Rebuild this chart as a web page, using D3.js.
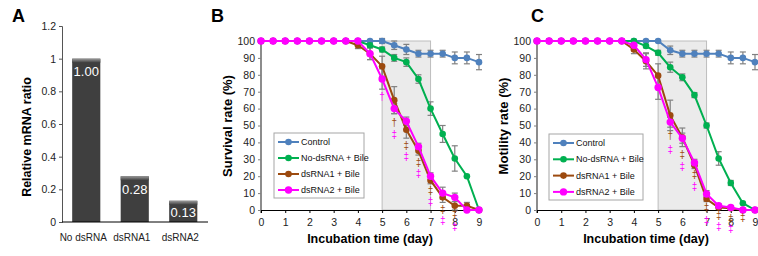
<!DOCTYPE html>
<html>
<head>
<meta charset="utf-8">
<script src="https://cdn.jsdelivr.net/npm/d3@7"></script>
<style>
  body { margin: 0; background: #fff; }
  svg { font-family: "Liberation Sans", Arial, sans-serif; }
</style>
</head>
<body>
<svg id="fig" width="758" height="256"></svg>
<script>
// ---- Panel A data
let mrnaCats = ["No dsRNA", "dsRNA1", "dsRNA2"];
let mrnaVals = [1.0, 0.28, 0.13];
let mrnaTicks = [0, 0.2, 0.4, 0.6, 0.8, 1, 1.2];

// ---- Panels B & C data (days 0..9, step 0.5)
let days = [0, 0.5, 1, 1.5, 2, 2.5, 3, 3.5, 4, 4.5, 5, 5.5, 6, 6.5, 7, 7.5, 8, 8.5, 9];
let dayTicks = [0, 1, 2, 3, 4, 5, 6, 7, 8, 9];
let rateTicks = [0, 10, 20, 30, 40, 50, 60, 70, 80, 90, 100];
let seriesNames = ["Control", "No-dsRNA + Bile", "dsRNA1 + Bile", "dsRNA2 + Bile"];

let survControl = [100, 100, 100, 100, 100, 100, 100, 100, 100, 100, 100, 97.5, 95, 92.5, 92.5, 92.5, 90, 90, 87.5];
let survControlErr = [0, 0, 0, 0, 0, 0, 0, 0, 0, 0, 1.5, 2.5, 3, 2, 2, 2, 3.5, 3.5, 4.5];
let survNo = [100, 100, 100, 100, 100, 100, 100, 100, 100, 97.5, 95, 90, 87.5, 77.5, 60, 45, 30.5, 20, 0];
let survNoErr = [0, 0, 0, 0, 0, 0, 0, 0, 0, 1.5, 1.5, 2, 2.5, 2.5, 4, 5, 7.5, 0, 0];
let survDs1 = [100, 100, 100, 100, 100, 100, 100, 100, 97.5, 92.5, 85, 65, 47.5, 35, 17.5, 7.5, 2.5, 2.5, 0];
let survDs1Err = [0, 0, 0, 0, 0, 0, 0, 0, 2, 3.5, 6, 8, 5, 2.5, 2, 3, 2.5, 2, 0];
let survDs2 = [100, 100, 100, 100, 100, 100, 100, 100, 100, 92.5, 77.5, 60, 52.5, 37.5, 20, 10, 7.5, 0, 0];
let survDs2Err = [0, 0, 0, 0, 0, 0, 0, 0, 0, 3.5, 6, 3, 2.5, 2, 2, 3.5, 2.5, 0, 0];

let motControl = [100, 100, 100, 100, 100, 100, 100, 100, 100, 100, 100, 94.5, 92.5, 92.5, 92.5, 92.5, 90, 90, 87.5];
let motControlErr = [0, 0, 0, 0, 0, 0, 0, 0, 0, 0, 0, 2.5, 2, 2, 2, 2, 3.5, 3.5, 4.5];
let motNo = [100, 100, 100, 100, 100, 100, 100, 100, 100, 97, 93, 84.5, 78.5, 68, 50, 30.5, 16, 4, 0];
let motNoErr = [0, 0, 0, 0, 0, 0, 0, 0, 0, 1, 1.5, 3, 2, 1.5, 1.5, 4, 1.5, 0, 0];
let motDs1 = [100, 100, 100, 100, 100, 100, 100, 100, 95, 88, 79.5, 56, 43, 26.5, 6.5, 1.5, 1, 0, 0];
let motDs1Err = [0, 0, 0, 0, 0, 0, 0, 0, 2.5, 4.5, 7, 9, 5.5, 2, 1.5, 1, 1, 0, 0];
let motDs2 = [100, 100, 100, 100, 100, 100, 100, 100, 97.5, 89, 72.5, 52, 42.5, 28, 9.5, 2.5, 1.5, 0, 0];
let motDs2Err = [0, 0, 0, 0, 0, 0, 0, 0, 2, 4, 7, 3, 3, 2, 2, 1, 1, 0, 0];

// significance marks: [day, symbol, series index, value position]
let survSig = [
  [5, "†", 3, 67], [5.5, "†", 2, 51.5], [5.5, "‡", 3, 44.5],
  [6, "‡", 2, 38], [6, "‡", 3, 31.5], [6.5, "‡", 2, 28], [6.5, "‡", 3, 21.5],
  [7, "‡", 2, 11.5], [7, "‡", 3, 5], [7.5, "‡", 2, 0.5], [7.5, "‡", 3, -6],
  [8, "‡", 2, -2], [8, "‡", 3, -10],
];
let motSig = [
  [5.5, "†", 2, 44], [5.5, "‡", 3, 36],
  [6, "‡", 2, 33], [6, "‡", 3, 26], [6.5, "‡", 2, 21], [6.5, "‡", 3, 14],
  [7, "‡", 2, 1.5], [7, "‡", 3, -6], [7.5, "‡", 2, -3.5], [7.5, "‡", 3, -9.5],
  [8, "‡", 2, -5], [8, "‡", 3, -11], [8.5, "‡", 2, -4.5],
];

let colors = ["#4f81bd", "#00b050", "#9c4a0f", "#ff00ff"];
let axisGrey = "#808080";

let svg = d3.select("#fig");

// ================= Panel A =================
let ya = d3.scaleLinear().domain([0, 1.2]).range([222, 26]);
let xa = d3.scaleBand().domain(mrnaCats).range([62, 207.5])
  .paddingInner(0.42).paddingOuter(0.21);

let defs = svg.append("defs");
let grad = defs.append("linearGradient").attr("id", "barTop")
  .attr("x1", 0).attr("y1", 0).attr("x2", 0).attr("y2", 1);
grad.append("stop").attr("offset", "0%").attr("stop-color", "#9a9a9a");
grad.append("stop").attr("offset", "100%").attr("stop-color", "#404040");

let gA = svg.append("g");
gA.selectAll("rect.bar").data(mrnaVals).enter().append("rect")
  .attr("class", "bar")
  .attr("x", (d, i) => xa(mrnaCats[i]))
  .attr("y", d => ya(d))
  .attr("width", xa.bandwidth())
  .attr("height", d => ya(0) - ya(d))
  .attr("fill", "#3f3f3f");
gA.selectAll("rect.top").data(mrnaVals).enter().append("rect")
  .attr("class", "top")
  .attr("x", (d, i) => xa(mrnaCats[i]))
  .attr("y", d => ya(d))
  .attr("width", xa.bandwidth())
  .attr("height", 4)
  .attr("fill", "url(#barTop)");
gA.selectAll("text.val").data(mrnaVals).enter().append("text")
  .attr("class", "val")
  .attr("x", (d, i) => xa(mrnaCats[i]) + xa.bandwidth() / 2)
  .attr("y", d => Math.min(ya(d) + 13, (ya(d) + ya(0)) / 2 + 1))
  .attr("dy", "0.35em")
  .attr("text-anchor", "middle")
  .attr("fill", "#fff")
  .style("font-size", "13px")
  .text(d => d.toFixed(2));

let yAxisA = gA.append("g").attr("transform", "translate(62,0)")
  .call(d3.axisLeft(ya).tickValues(mrnaTicks).tickSize(3).tickFormat(d => d));
yAxisA.select(".domain").attr("stroke", "#555");
yAxisA.selectAll(".tick line").attr("stroke", "#555");
yAxisA.selectAll("text").style("font-size", "10.5px").attr("fill", "#222").attr("font-family", null);

gA.append("line").attr("x1", 62).attr("x2", 208).attr("y1", ya(0)).attr("y2", ya(0))
  .attr("stroke", "#000");
gA.selectAll("text.cat").data(mrnaCats).enter().append("text")
  .attr("class", "cat")
  .attr("x", d => xa(d) + xa.bandwidth() / 2 - 3)
  .attr("y", 237).attr("dy", "0.35em")
  .attr("text-anchor", "middle")
  .style("font-size", "10px")
  .attr("fill", "#222")
  .text(d => d);

gA.append("text").attr("transform", "translate(27,137) rotate(-90)")
  .attr("text-anchor", "middle").attr("dy", "0.35em")
  .style("font-size", "12.5px").style("font-weight", "bold")
  .text("Relative mRNA ratio");
gA.append("text").attr("x", 12).attr("y", 22)
  .style("font-size", "18px").style("font-weight", "bold").text("A");

// ================= Panels B & C =================
function linePanel(cfg) {
  let g = svg.append("g");
  let x = d3.scaleLinear().domain([0, 9]).range(cfg.xRange);
  let y = d3.scaleLinear().domain([0, 100]).range([210, 41]);

  // shaded window day 5..7
  g.append("rect")
    .attr("x", x(5)).attr("y", y(100))
    .attr("width", x(7) - x(5)).attr("height", y(0) - y(100))
    .attr("fill", "#ebebeb").attr("stroke", "#bdbdbd").attr("stroke-width", 1);

  // axes
  let yAx = g.append("g").attr("transform", `translate(${x(0)},0)`)
    .call(d3.axisLeft(y).tickValues(rateTicks).tickSize(3));
  yAx.select(".domain").remove();
  yAx.selectAll(".tick line").attr("stroke", axisGrey);
  yAx.selectAll("text").style("font-size", "10.5px").attr("fill", "#222").attr("font-family", null);
  g.append("line").attr("x1", x(0)).attr("x2", x(0)).attr("y1", y(100)).attr("y2", y(0) + 3)
    .attr("stroke", axisGrey).attr("stroke-width", 1.8);

  let xAx = g.append("g").attr("transform", `translate(0,${y(0)})`)
    .call(d3.axisBottom(x).tickValues(dayTicks).tickSize(3).tickPadding(6).tickFormat(d3.format("d")));
  xAx.select(".domain").attr("stroke", "#000");
  xAx.selectAll("text").style("font-size", "10.5px").attr("fill", "#222").attr("font-family", null);

  // error bars first, then lines and markers on top
  cfg.series.forEach((s, k) => {
    let pts = days.map((d, i) => ({ d: d, v: s.vals[i], e: s.errs[i] }));
    let eb = g.append("g").attr("stroke", axisGrey).attr("stroke-width", 1.2);
    pts.filter(p => p.e > 0).forEach(p => {
      eb.append("line").attr("x1", x(p.d)).attr("x2", x(p.d))
        .attr("y1", y(p.v + p.e)).attr("y2", y(p.v - p.e));
      [p.v + p.e, p.v - p.e].forEach(v => {
        eb.append("line").attr("x1", x(p.d) - 3).attr("x2", x(p.d) + 3)
          .attr("y1", y(v)).attr("y2", y(v));
      });
    });
  });
  cfg.series.forEach((s, k) => {
    let pts = days.map((d, i) => ({ d: d, v: s.vals[i] }));
    g.append("path").datum(pts)
      .attr("fill", "none").attr("stroke", colors[k]).attr("stroke-width", 2)
      .attr("d", d3.line().x(p => x(p.d)).y(p => y(p.v)));
    g.selectAll(null).data(pts).enter().append("circle")
      .attr("cx", p => x(p.d)).attr("cy", p => y(p.v))
      .attr("r", k === 3 ? 3.7 : 3.3)
      .attr("fill", colors[k]);
  });

  // significance marks
  g.selectAll(null).data(cfg.sig).enter().append("text")
    .attr("x", d => x(d[0])).attr("y", d => y(d[3])).attr("dy", "0.35em")
    .attr("text-anchor", "middle")
    .attr("fill", d => colors[d[2]])
    .style("font-size", "10px")
    .text(d => d[1]);

  // legend
  let lg = cfg.legend;
  g.append("rect").attr("x", lg.x).attr("y", lg.y).attr("width", lg.w).attr("height", lg.h)
    .attr("fill", "#fff").attr("stroke", "#a6a6a6");
  let items = g.selectAll(null).data(seriesNames).enter().append("g")
    .attr("transform", (d, i) => `translate(${lg.x + 4},${lg.y + 9 + i * lg.step})`);
  items.append("line").attr("x1", 0).attr("x2", 21).attr("stroke", (d, i) => colors[i]).attr("stroke-width", 2);
  items.append("circle").attr("cx", 10.5).attr("r", (d, i) => i === 3 ? 3.7 : 3.3).attr("fill", (d, i) => colors[i]);
  items.append("text").attr("x", 23).attr("dy", "0.35em")
    .style("font-size", "9px").attr("fill", "#111").text(d => d);

  // titles
  g.append("text").attr("x", (x(0) + x(9)) / 2).attr("y", 239).attr("dy", "0.35em")
    .attr("text-anchor", "middle").style("font-size", "12.5px").style("font-weight", "bold")
    .text("Incubation time (day)");
  g.append("text").attr("transform", `translate(${cfg.yLabelX},126) rotate(-90)`)
    .attr("text-anchor", "middle").attr("dy", "0.35em")
    .style("font-size", "13px").style("font-weight", "bold")
    .text(cfg.yLabel);
  g.append("text").attr("x", cfg.letterX).attr("y", 22)
    .style("font-size", "18px").style("font-weight", "bold").text(cfg.letter);
}

linePanel({
  xRange: [261, 479],
  letter: "B", letterX: 211, yLabelX: 227,
  yLabel: "Survival rate (%)",
  series: [
    { vals: survControl, errs: survControlErr },
    { vals: survNo, errs: survNoErr },
    { vals: survDs1, errs: survDs1Err },
    { vals: survDs2, errs: survDs2Err },
  ],
  sig: survSig,
  legend: { x: 274, y: 133, w: 90, h: 65, step: 16 },
});

linePanel({
  xRange: [537, 755],
  letter: "C", letterX: 531, yLabelX: 503,
  yLabel: "Motility rate (%)",
  series: [
    { vals: motControl, errs: motControlErr },
    { vals: motNo, errs: motNoErr },
    { vals: motDs1, errs: motDs1Err },
    { vals: motDs2, errs: motDs2Err },
  ],
  sig: motSig,
  legend: { x: 549, y: 134, w: 94, h: 66, step: 16.3 },
});
</script>
</body>
</html>
